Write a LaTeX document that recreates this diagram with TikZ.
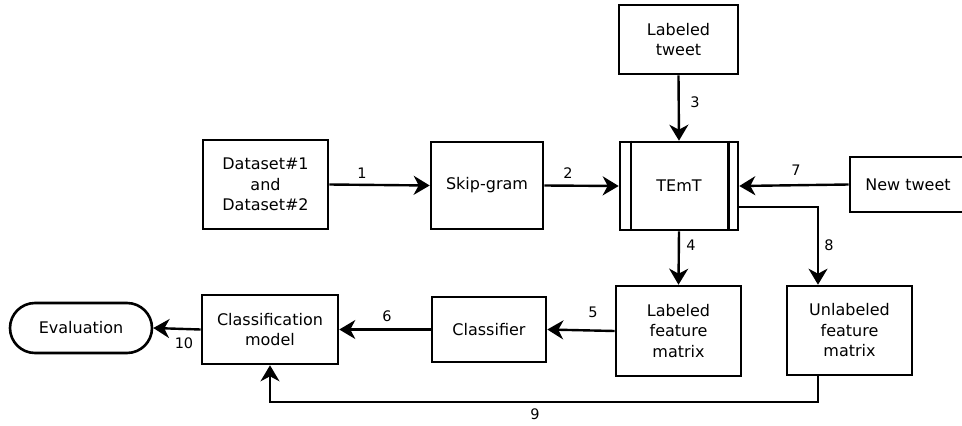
\documentclass[tikz,border=0pt]{standalone}
\usepackage{fontspec}
\setmainfont{DejaVu Sans}
\usetikzlibrary{arrows.meta}
\begin{document}
\begin{tikzpicture}[x=1pt,y=-1pt,
  box/.style={draw,line width=2.6pt,align=center,inner sep=0pt,font=\fontsize{16}{20.5}\selectfont},
  term/.style={box,rounded corners=25pt},
  conn/.style={line width=2.4pt,-{Stealth[length=16pt,width=19pt,inset=5pt]}},
  plain/.style={line width=2.4pt},
  lbl/.style={font=\fontsize{14.5}{17}\selectfont,inner sep=0pt}]
\clip (0,0) rectangle (962,426);
\node[box,minimum width=125pt,minimum height=89pt] (ds) at (265.5,184.5) {Dataset\#1\\and\\Dataset\#2};
\node[box,minimum width=112pt,minimum height=87pt] (sg) at (487,185.5) {Skip-gram};
\node[box,minimum width=118pt,minimum height=88pt] (tm) at (679,186) {TEmT};
\draw[plain] ([xshift=12pt]tm.north west) -- ([xshift=12pt]tm.south west);
\draw[plain] ([xshift=-11pt]tm.north east) -- ([xshift=-11pt]tm.south east);
\node[box,minimum width=119pt,minimum height=69pt] (lt) at (678.5,39.5) {Labeled\\tweet};
\node[box,minimum width=116pt,minimum height=55pt] (nt) at (908,184.5) {New tweet};
\node[box,minimum width=125pt,minimum height=90pt] (lfm) at (678.5,331) {Labeled\\feature\\matrix};
\node[box,minimum width=125pt,minimum height=89pt] (ufm) at (849.5,330.5) {Unlabeled\\feature\\matrix};
\node[box,minimum width=114pt,minimum height=65pt] (cl) at (489,329.5) {Classifier};
\node[box,minimum width=136pt,minimum height=69pt] (cm) at (270,329.5) {Classification\\model};
\node[term,minimum width=142pt,minimum height=50pt] (ev) at (81,328) {Evaluation};
\coordinate (c9) at (818,402);
% connectors
\draw[conn] (ds.east) -- (sg.west);
\node[lbl] (l1) at (362,173) {1};
\draw[conn] (sg.east) -- (tm.west);
\node[lbl] (l2) at (568,173) {2};
\draw[conn] (lt.south) -- (tm.north);
\node[lbl] (l3) at (695,102) {3};
\draw[conn] (nt.west) -- (tm.east);
\node[lbl] (l7) at (796,170) {7};
\draw[conn] ([yshift=-21pt]tm.east) -| ([xshift=-31.5pt]ufm.north);
\node[lbl] (l8) at (829,245) {8};
\draw[conn] (tm.south) -- (lfm.north);
\node[lbl] (l4) at (691,245) {4};
\draw[conn] (lfm.west) -- (cl.east);
\node[lbl] (l5) at (593,312) {5};
\draw[conn] (cl.west) -- (cm.east);
\node[lbl] (l6) at (387,316) {6};
\draw[conn] (cm.west) -- (ev.east);
\node[lbl] (l10) at (184,343) {10};
\draw[conn] ([xshift=-31.5pt]ufm.south) -- (c9) -| (cm.south);
\node[lbl] (l9) at (535,414) {9};
\end{tikzpicture}
\end{document}
